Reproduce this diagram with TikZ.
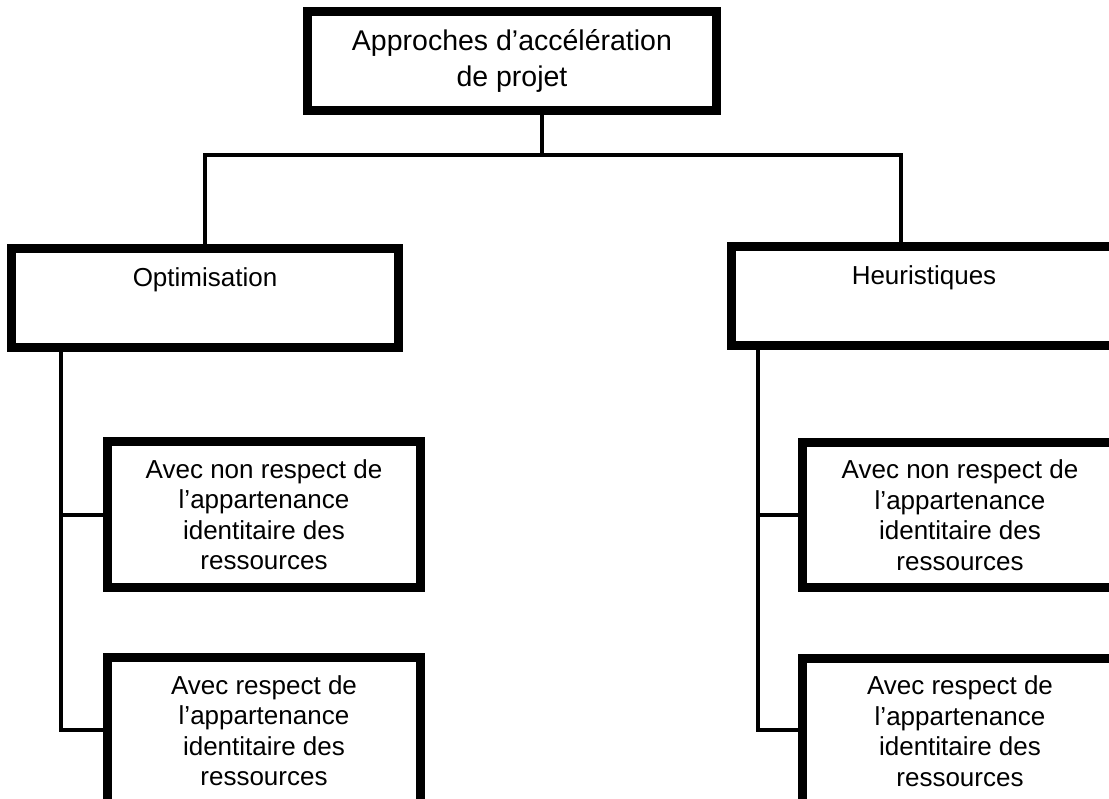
\documentclass[tikz,border=0pt]{standalone}
\usepackage{fontspec}
\setmainfont{Liberation Sans}
\begin{document}
\begin{tikzpicture}[x=1pt,y=-1pt,
  box/.style={draw=black,fill=white,line width=6pt,rectangle,inner sep=0pt,align=center},
  conn/.style={draw=black,line width=4pt,line join=miter},
  rootfont/.style={font=\fontsize{28.5}{36}\selectfont},
  leaffont/.style={font=\fontsize{26}{30.5}\selectfont}]
\useasboundingbox (0,0) rectangle (1109,799);
\clip (0,0) rectangle (1109,799);

% connector hubs
\coordinate (hub) at (542,155);
\coordinate (hL) at (205,155);
\coordinate (hR) at (901,155);
\coordinate (tL) at (61,730);
\coordinate (tR) at (758,730);

% boxes
\node[box,rootfont,minimum width=406pt,minimum height=96pt] (root) at (512,61)
  {Approches d’accélération\\de projet};
\node[box,leaffont,minimum width=384pt,minimum height=96pt,text height=19pt,text depth=41pt] (opt) at (205,298)
  {Optimisation};
\node[box,leaffont,minimum width=382pt,minimum height=96pt,text height=19pt,text depth=41pt] (heur) at (924,296)
  {Heuristiques};
\node[box,leaffont,minimum width=310pt,minimum height=143pt] (l1) at (264,514.5)
  {Avec non respect de\\l’appartenance\\identitaire des\\ressources};
\node[box,leaffont,minimum width=310pt,minimum height=143pt] (l2) at (264,730.5)
  {Avec respect de\\l’appartenance\\identitaire des\\ressources};
\node[box,leaffont,minimum width=312pt,minimum height=142pt] (r1) at (960,515)
  {Avec non respect de\\l’appartenance\\identitaire des\\ressources};
\node[box,leaffont,minimum width=312pt,minimum height=142pt] (r2) at (960,731)
  {Avec respect de\\l’appartenance\\identitaire des\\ressources};

% root to the two branches
\draw[conn] (root.south -| hub) -- (hub);
\draw[conn] (hL |- opt.north) -- (hL) -- (hR) -- (hR |- heur.north);

% left branch
\draw[conn] (opt.south -| tL) -- (tL) -- (l2.west |- tL);
\draw[conn] (tL |- l1.west) -- (l1.west);

% right branch
\draw[conn] (heur.south -| tR) -- (tR) -- (r2.west |- tR);
\draw[conn] (tR |- r1.west) -- (r1.west);

% redraw box frames above connector ends
\foreach \n in {root,opt,heur,l1,l2,r1,r2}
  \draw[line width=6pt] (\n.north west) rectangle (\n.south east);
\end{tikzpicture}
\end{document}
